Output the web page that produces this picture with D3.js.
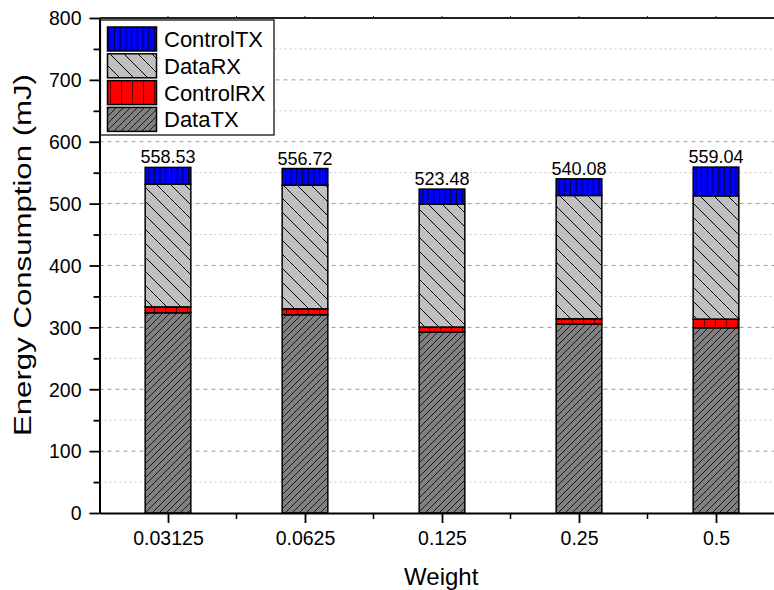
<!DOCTYPE html>
<html>
<head>
<meta charset="utf-8">
<script src="https://cdn.jsdelivr.net/npm/d3@7"></script>
<style>
    body { margin: 0; background: #fff; }
    text { font-family: Arial, "Liberation Sans", sans-serif; fill: #000; }
</style>
</head>
<body>
<div id="chart"></div>
<script>
let weights = ["0.03125", "0.0625", "0.125", "0.25", "0.5"];
let dataTX = [323.6, 320.4, 292.4, 305.3, 299.4];
let controlRX = [9.5, 9.6, 8.1, 8.6, 14.0];
let dataRX = [198.4, 199.9, 198.7, 199.3, 199.2];
let controlTX = [27.03, 26.82, 24.28, 26.88, 46.44];
let yTicks = [0, 100, 200, 300, 400, 500, 600, 700, 800];
let yMinorTicks = [50, 150, 250, 350, 450, 550, 650, 750];

// stacking order bottom -> top, legend shows it reversed
let seriesList = [
    {name: "DataTX", values: dataTX, pattern: "patDataTX"},
    {name: "ControlRX", values: controlRX, pattern: "patControlRX"},
    {name: "DataRX", values: dataRX, pattern: "patDataRX"},
    {name: "ControlTX", values: controlTX, pattern: "patControlTX"}
];

let svgWidth = 774, svgHeight = 590;
let xLeft = 99.5, xRight = 784.5, yBottom = 513, yTop = 18;

let svg = d3.select("#chart").append("svg").attr("width", svgWidth).attr("height", svgHeight);

let x = d3.scalePoint().domain(weights).range([xLeft, xRight]).padding(0.5);
let step = x.step();
let barWidth = step / 3;
let y = d3.scaleLinear().domain([0, 800]).range([yBottom, yTop]);

//Patterns
let defs = svg.append("defs");
function stripePattern(id, w, h, fill, lineColor, lineWidth, d) {
    let p = defs.append("pattern").attr("id", id).attr("patternUnits", "userSpaceOnUse")
        .attr("width", w).attr("height", h);
    p.append("rect").attr("width", w).attr("height", h).attr("fill", fill);
    p.append("path").attr("d", d).attr("stroke", lineColor).attr("stroke-width", lineWidth).attr("fill", "none");
}
stripePattern("patControlTX", 5.7, 10, "#0000ff", "#000033", 1, "M0.5,0V10");
stripePattern("patControlRX", 11, 10, "#ff0000", "#660000", 1, "M0.5,0V10");
stripePattern("patDataRX", 14, 14, "#c0c0c0", "#000", 1, "M-1,-1L15,15M-1,13L1,15M13,-1L15,1");
stripePattern("patDataTX", 7, 7, "#808080", "#111", 0.9, "M-1,8L8,-1M-1,1L1,-1M6,8L8,6");

//Grid
let grid = svg.append("g").attr("class", "grid");
yMinorTicks.forEach(t => {
    grid.append("line").attr("x1", xLeft).attr("x2", xRight).attr("y1", y(t)).attr("y2", y(t))
        .attr("stroke", "#c4c4c4").attr("stroke-width", 1).attr("stroke-dasharray", "2,3");
});
yTicks.filter(t => t > 0 && t < 800).forEach(t => {
    grid.append("line").attr("x1", xLeft).attr("x2", xRight).attr("y1", y(t)).attr("y2", y(t))
        .attr("stroke", "#999").attr("stroke-width", 1).attr("stroke-dasharray", "4,4");
});

//Bars
let bars = svg.append("g").attr("class", "bars");
weights.forEach((w, i) => {
    let base = 0;
    seriesList.forEach(s => {
        let v = s.values[i];
        bars.append("rect").attr("x", x(w) - barWidth / 2).attr("y", y(base + v))
            .attr("width", barWidth).attr("height", y(base) - y(base + v))
            .attr("fill", "url(#" + s.pattern + ")").attr("stroke", "#000").attr("stroke-width", 1.5);
        base += v;
    });
    bars.append("text").attr("x", x(w)).attr("y", y(base) - 4).attr("text-anchor", "middle")
        .attr("style", "font-size: 18px").text(d3.format(".2f")(base));
});

//Axes
let yAxis = svg.append("g").attr("transform", "translate(" + xLeft + ",0)")
    .call(d3.axisLeft(y).tickValues(yTicks).tickSize(10).tickSizeOuter(0).tickPadding(8));
let yMinorAxis = svg.append("g").attr("transform", "translate(" + xLeft + ",0)")
    .call(d3.axisLeft(y).tickValues(yMinorTicks).tickSize(6).tickSizeOuter(0).tickFormat(""));
yMinorAxis.select(".domain").remove();
let xAxis = svg.append("g").attr("transform", "translate(0," + yBottom + ")")
    .call(d3.axisBottom(x).tickSize(10).tickSizeOuter(0).tickPadding(8));
let minorX = weights.map((w, i) => x(w) + step / 2);
minorX.forEach(mx => {
    svg.append("line").attr("x1", mx).attr("x2", mx).attr("y1", yBottom).attr("y2", yBottom + 6)
        .attr("stroke", "#000").attr("stroke-width", 1.5);
});
[yAxis, yMinorAxis, xAxis].forEach(a => {
    a.selectAll("path, line").attr("stroke", "#000").attr("stroke-width", 1.8);
    a.selectAll("text").attr("style", "font-size: 19.5px").attr("font-family", null);
});
xAxis.select(".domain").attr("stroke-width", 2);
yAxis.select(".domain").attr("stroke-width", 2);
yAxis.selectAll(".tick text").attr("dy", "0.35em");

//Top line
svg.append("line").attr("x1", xLeft).attr("x2", xRight).attr("y1", yTop).attr("y2", yTop)
    .attr("stroke", "#222").attr("stroke-width", 1.8);
weights.forEach(w => {
    svg.append("line").attr("x1", x(w)).attr("x2", x(w)).attr("y1", yTop).attr("y2", yTop - 2)
        .attr("stroke", "#222").attr("stroke-width", 1);
});
minorX.forEach(mx => {
    svg.append("line").attr("x1", mx).attr("x2", mx).attr("y1", yTop).attr("y2", yTop - 2)
        .attr("stroke", "#222").attr("stroke-width", 1);
});

//Titles
svg.append("text").attr("x", (xLeft + 785) / 2 - 1).attr("y", 585).attr("text-anchor", "middle")
    .attr("style", "font-size: 24px").text("Weight");
svg.append("text").attr("transform", "translate(31,255) rotate(-90)").attr("text-anchor", "middle")
    .attr("textLength", 362).attr("lengthAdjust", "spacingAndGlyphs")
    .attr("style", "font-size: 23px").text("Energy Consumption (mJ)");

//Legend
let legend = svg.append("g").attr("class", "legend");
legend.append("rect").attr("x", 100.5).attr("y", 20).attr("width", 173.5).attr("height", 115)
    .attr("fill", "#fff").attr("stroke", "#000").attr("stroke-width", 1.2);
seriesList.slice().reverse().forEach((s, i) => {
    let rowY = 27 + i * 26.8;
    legend.append("rect").attr("x", 107.5).attr("y", rowY).attr("width", 49).attr("height", 24)
        .attr("fill", "url(#" + s.pattern + ")").attr("stroke", "#000").attr("stroke-width", 1.5);
    legend.append("text").attr("x", 164).attr("y", rowY + 20).attr("style", "font-size: 22px").text(s.name);
});
</script>
</body>
</html>
